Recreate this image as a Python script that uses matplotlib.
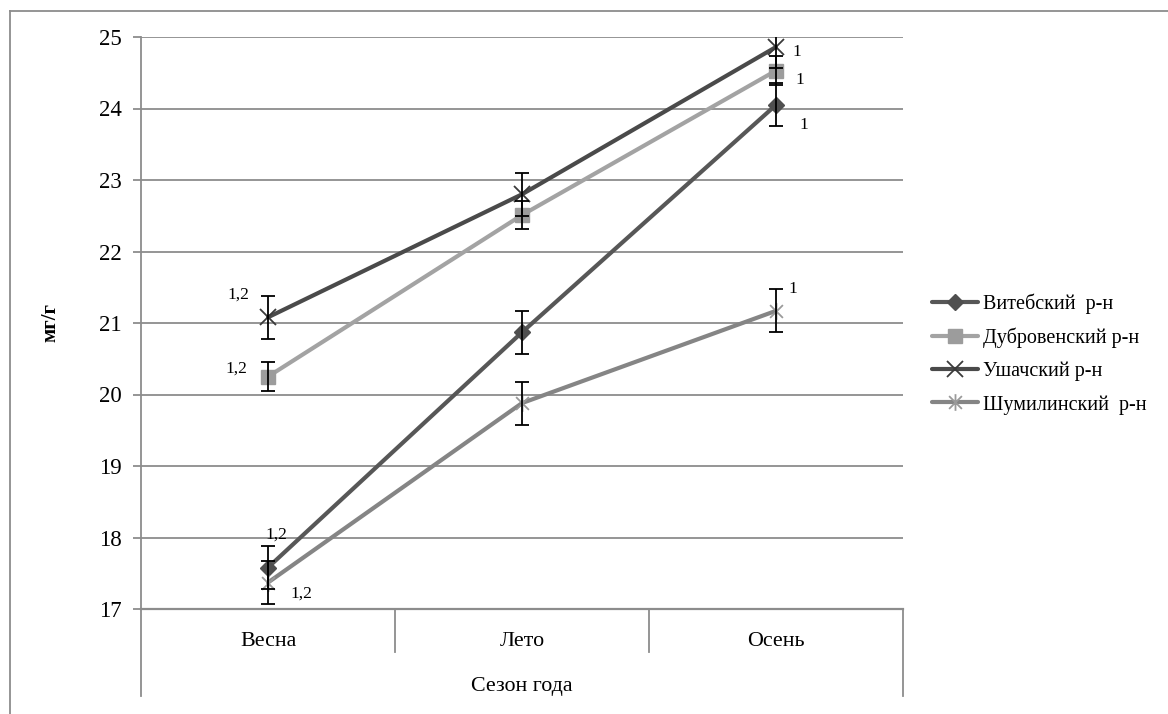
import numpy as np
import matplotlib
matplotlib.use("Agg")
import matplotlib.pyplot as plt
from matplotlib.path import Path
from matplotlib.lines import Line2D

plt.rcParams['font.family'] = ['Liberation Serif', 'DejaVu Serif']

# data
seasons = ["Весна", "Лето", "Осень"]
x_title = "Сезон года"
y_title = "мг/г"
names = ["Витебский  р-н", "Дубровенский р-н", "Ушачский р-н", "Шумилинский  р-н"]
vitebsk = [17.58, 20.87, 24.05]
dubrovno = [20.25, 22.51, 24.53]
ushachi = [21.08, 22.80, 24.86]
shumilino = [17.37, 19.88, 21.17]
err_vitebsk = [0.3, 0.3, 0.3]
err_dubrovno = [0.2, 0.2, 0.2]
err_ushachi = [0.3, 0.3, 0.3]
err_shumilino = [0.3, 0.3, 0.3]
# significance notes: (series, season, text)
notes = [(0, 0, "1,2"), (1, 0, "1,2"), (2, 0, "1,2"), (3, 0, "1,2"),
         (0, 2, "1"), (1, 2, "1"), (2, 2, "1"), (3, 2, "1")]

series = [vitebsk, dubrovno, ushachi, shumilino]
errors = [err_vitebsk, err_dubrovno, err_ushachi, err_shumilino]

# Excel-like star marker: X plus a vertical bar
star = Path([(-1, -1), (1, 1), (-1, 1), (1, -1), (0, -1.3), (0, 1.3)],
            [Path.MOVETO, Path.LINETO, Path.MOVETO, Path.LINETO, Path.MOVETO, Path.LINETO])

styles = [
    dict(color="#575757", marker="D", ms=8, mfc="#4f4f4f", mec="#4f4f4f"),
    dict(color="#a3a3a3", marker="s", ms=10, mfc="#9c9c9c", mec="#9c9c9c"),
    dict(color="#4a4a4a", marker="x", ms=11, mec="#3a3a3a", mew=1.3),
    dict(color="#858585", marker=star, ms=12, mfc="none", mec="#9a9a9a", mew=1.3),
]
# label offsets in pixels (dx, dy) for each note
note_offsets = [(8, 33), (-32, 8), (-30, 23), (33, -11),
                (28, -20), (24, -9), (21, -5), (17, 22)]

fig = plt.figure(figsize=(11.68, 7.14), dpi=100)
ax = fig.add_axes([141 / 1168, 1 - 609 / 714, 762 / 1168, 572 / 714])

x = np.arange(len(seasons))
handles = []
for vals, st, name in zip(series, styles, names):
    h, = ax.plot(x, vals, lw=3, solid_capstyle="round", label=name, zorder=3, **st)
    handles.append(h)
for vals, err in zip(series, errors):
    ax.errorbar(x, vals, yerr=err, fmt="none", ecolor="black", elinewidth=1.3,
                capsize=5, capthick=1.3, zorder=4)

for (si, pi, txt), (dx, dy) in zip(notes, note_offsets):
    ax.annotate(txt, (x[pi], series[si][pi]), xytext=(dx, dy), textcoords="offset pixels",
                ha="center", va="center", fontsize=12.5)

ax.set_xlim(-0.5, 2.5)
ax.set_ylim(17, 25)
ax.set_yticks(range(17, 26))
ax.yaxis.grid(True, color="#8c8c8c", lw=1.3)
ax.set_axisbelow(True)
for s in ["top", "right"]:
    ax.spines[s].set_visible(False)
ax.spines["left"].set_color("#8c8c8c")
ax.spines["left"].set_linewidth(1.3)
ax.spines["bottom"].set_color("#8c8c8c")
ax.spines["bottom"].set_linewidth(1.6)
ax.tick_params(axis="y", length=6, color="#8c8c8c", width=1.3, labelsize=16.5, pad=8)
ax.set_xticks([])
ax.set_ylabel(y_title, fontsize=15, fontweight="bold", labelpad=0)
ax.yaxis.set_label_coords(-0.106, 0.5)

# two-level category axis
tr = ax.get_xaxis_transform()
for b in np.arange(len(seasons) + 1) - 0.5:
    outer = b in (-0.5, len(seasons) - 0.5)
    ax.plot([b, b], [0, -0.152 if outer else -0.075], transform=tr, color="#8c8c8c",
            lw=1.3, clip_on=False)
for xi, lab in zip(x, seasons):
    ax.text(xi, -0.056, lab, transform=tr, ha="center", va="center", fontsize=15.8)
ax.text(1, -0.136, x_title, transform=tr, ha="center", va="center", fontsize=15.8)

leg = fig.legend(handles=handles, loc="center left", bbox_to_anchor=(924 / 1168, 1 - 354 / 714),
                 frameon=False, fontsize=14.5, handlelength=2.3, handletextpad=0.25,
                 labelspacing=0.68, borderaxespad=0)

# chart frame
fig.add_artist(Line2D([10 / 1168, 10 / 1168], [0, 1 - 10.5 / 714], color="#8c8c8c", lw=1.3))
fig.add_artist(Line2D([10 / 1168, 1], [1 - 10.5 / 714, 1 - 10.5 / 714], color="#8c8c8c", lw=1.3))

fig.savefig("out.png", dpi=100)
